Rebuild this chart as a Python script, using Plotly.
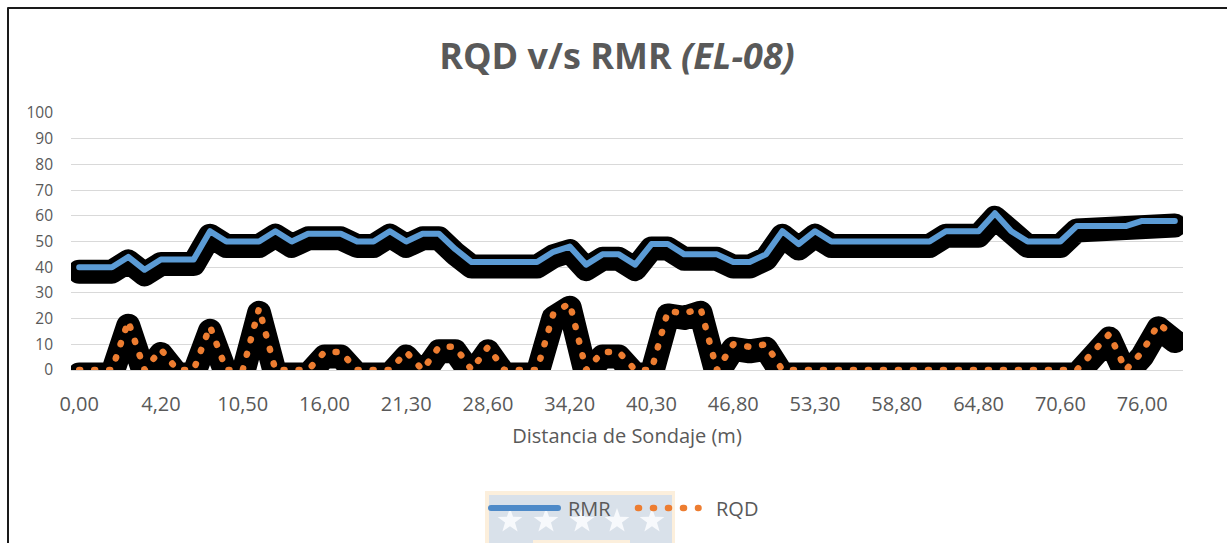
import math
import plotly.graph_objects as go

# RMR and RQD per sampled run along the borehole (one value per category)
rmr = [40, 40, 40, 44, 39, 43, 43, 43, 54, 50, 50, 50, 54, 50, 53, 53, 53, 50,
       50, 54, 50, 53, 53, 47, 42, 42, 42, 42, 42, 46, 48, 41, 45, 45, 41, 49,
       49, 45, 45, 45, 42, 42, 45, 54, 49, 54, 50, 50, 50, 50, 50, 50, 50, 54,
       54, 54, 61, 54, 50, 50, 50, 56, 56, 56, 56, 58, 58, 58]
rqd = [0, 0, 0, 19, 0, 8, 0, 0, 17, 0, 0, 24, 0, 0, 0, 7, 7, 0,
       0, 0, 7, 0, 9, 9, 0, 9, 0, 0, 0, 22, 26, 0, 7, 7, 0, 0,
       23, 22, 24, 0, 10, 9, 10, 0, 0, 0, 0, 0, 0, 0, 0, 0, 0, 0,
       0, 0, 0, 0, 0, 0, 0, 0, 7, 14, 0, 7, 18, 13]

# distance labels shown under every fifth run
tick_labels = ["0,00", "4,20", "10,50", "16,00", "21,30", "28,60", "34,20",
               "40,30", "46,80", "53,30", "58,80", "64,80", "70,60", "76,00"]
label_step = 5

series_names = ["RMR", "RQD"]

BLUE = "#5B9BD5"
ORANGE = "#ED7D31"
TEXT = "#595959"
GRID = "#D9D9D9"
FONT = "Open Sans"

W, H = 1227, 543
M = dict(l=71, r=44, t=113, b=173)
plot_w = W - M["l"] - M["r"]
plot_h = H - M["t"] - M["b"]


def px(x):
    """pixel column -> paper x"""
    return (x - M["l"]) / plot_w


def py(y):
    """pixel row -> paper y"""
    return (H - M["b"] - y) / plot_h


n = len(rmr)
cats = list(range(n))
tick_pos = cats[::label_step][:len(tick_labels)]

# drop shadow under each line, pushed a few pixels down
shadow_dy = 4.5 * 100 / plot_h
SHADOW_W = 24

fig = go.Figure()
for vals, color, dash, width, name in [
    (rmr, BLUE, "solid", 6, series_names[0]),
    (rqd, ORANGE, "1px,14px", 6.5, series_names[1]),
]:
    fig.add_trace(go.Scatter(
        x=cats, y=[v - shadow_dy for v in vals], mode="lines",
        line=dict(color="#000000", width=SHADOW_W),
        hoverinfo="skip", showlegend=False))
    fig.add_trace(go.Scatter(
        x=cats, y=vals, mode="lines", name=name,
        line=dict(color=color, width=width, dash=dash),
        showlegend=False))

shapes = []
annotations = []

# outer chart frame
shapes.append(dict(type="rect", xref="paper", yref="paper",
                   x0=px(8), x1=px(1300), y0=py(8), y1=py(620),
                   line=dict(color="#1a1a1a", width=2), layer="below"))

# faint crest behind the legend
shapes.append(dict(type="rect", xref="paper", yref="paper",
                   x0=px(485), x1=px(675), y0=py(491), y1=py(600),
                   fillcolor="#FCEFDC", line=dict(width=0), layer="below"))
shapes.append(dict(type="rect", xref="paper", yref="paper",
                   x0=px(489), x1=px(672), y0=py(495), y1=py(600),
                   fillcolor="#D9E1EA", line=dict(width=0), layer="below"))
shapes.append(dict(type="rect", xref="paper", yref="paper",
                   x0=px(533), x1=px(630), y0=py(540), y1=py(600),
                   fillcolor="#FCEFDC", line=dict(width=0), layer="below"))


def star_path(cx, cy, r_out, r_in):
    pts = []
    for k in range(10):
        r = r_out if k % 2 == 0 else r_in
        a = -math.pi / 2 + k * math.pi / 5
        pts.append((px(cx + r * math.cos(a)), py(cy + r * math.sin(a))))
    return "M" + " L".join(f"{x:.5f},{y:.5f}" for x, y in pts) + " Z"


for sx in [510, 546, 582, 617, 652]:
    shapes.append(dict(type="path", xref="paper", yref="paper",
                       path=star_path(sx, 521, 13, 5.2),
                       fillcolor="#F7F9FC", line=dict(width=0), layer="below"))

# legend keys
shapes.append(dict(type="line", xref="paper", yref="paper",
                   x0=px(491), x1=px(558), y0=py(508), y1=py(508),
                   line=dict(color="#4E8AC8", width=6), layer="above"))
shapes.append(dict(type="line", xref="paper", yref="paper",
                   x0=px(638), x1=px(698.5), y0=py(508), y1=py(508),
                   line=dict(color=ORANGE, width=6.5, dash="1px,14px"),
                   layer="above"))
for label, xpos in [(series_names[0], 566), (series_names[1], 714)]:
    annotations.append(dict(text=label, xref="paper", yref="paper",
                            x=px(xpos), y=py(509), xanchor="left",
                            yanchor="middle", showarrow=False,
                            font=dict(size=20, color=TEXT, family=FONT)))

fig.update_layout(
    width=W, height=H,
    margin=M,
    paper_bgcolor="white", plot_bgcolor="white",
    font=dict(family=FONT, color=TEXT),
    title=dict(text="<b>RQD v/s RMR <i>(EL-08)</i></b>",
               x=617 / W, xanchor="center", y=1 - 56 / H, yanchor="middle",
               font=dict(size=36, color=TEXT, family=FONT)),
    xaxis=dict(range=[-0.5, n - 0.5], tickmode="array",
               tickvals=tick_pos, ticktext=tick_labels,
               showgrid=False, zeroline=False, showline=False,
               ticks="", ticklabelstandoff=20,
               tickfont=dict(size=20, color=TEXT),
               title=dict(text="Distancia de Sondaje (m)",
                          font=dict(size=20, color=TEXT), standoff=12)),
    yaxis=dict(range=[0, 100], dtick=10, tick0=0,
               showgrid=True, gridcolor=GRID, gridwidth=1.3,
               zeroline=True, zerolinecolor=GRID, zerolinewidth=1.3,
               showline=False, ticks="", ticklabelstandoff=17,
               tickfont=dict(size=15.5, color=TEXT)),
    shapes=shapes,
    annotations=annotations,
    showlegend=False,
)

round_caps = """
var gd = document.getElementById('{plot_id}');
function roundLines() {
  gd.querySelectorAll('path.js-line, .shapelayer path').forEach(function (p) {
    p.style.strokeLinejoin = 'round';
    p.style.strokeLinecap = 'round';
  });
}
roundLines();
gd.on('plotly_afterplot', roundLines);
"""

fig.write_html("out.html", post_script=round_caps)
